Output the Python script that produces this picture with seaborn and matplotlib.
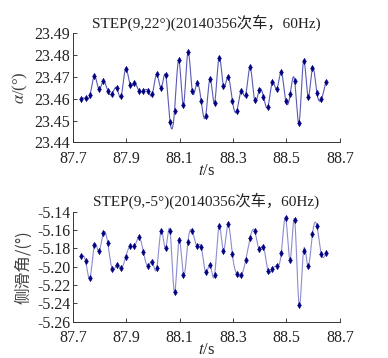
import numpy as np
import pandas as pd
import matplotlib
matplotlib.use("Agg")
import matplotlib.pyplot as plt
import seaborn as sns

# sampling: 60 Hz, first sample time
T0 = 87.7305
RATE = 60.0

alpha_vals = [23.4601, 23.4602, 23.4616, 23.4705, 23.4645, 23.4682, 23.4636, 23.4624,
              23.4650, 23.4611, 23.4738, 23.4665, 23.4673, 23.4637, 23.4637, 23.4637,
              23.4621, 23.4712, 23.4650, 23.4709, 23.4495, 23.4544, 23.4776, 23.4572,
              23.4813, 23.4634, 23.4671, 23.4590, 23.4521, 23.4692, 23.4582, 23.4789,
              23.4659, 23.4702, 23.4592, 23.4544, 23.4637, 23.4619, 23.4744, 23.4593,
              23.4639, 23.4610, 23.4564, 23.4677, 23.4644, 23.4724, 23.4590, 23.4621,
              23.4683, 23.4491, 23.4773, 23.4610, 23.4741, 23.4628, 23.4598, 23.4677]

beta_vals = [-5.1887, -5.1938, -5.2124, -5.1767, -5.1833, -5.1633, -5.1742, -5.2029,
             -5.1982, -5.2018, -5.1898, -5.1778, -5.1778, -5.1680, -5.1836, -5.1993,
             -5.1945, -5.2018, -5.1607, -5.1800, -5.1611, -5.2280, -5.1709, -5.2087,
             -5.1735, -5.1611, -5.1771, -5.1782, -5.2062, -5.1982, -5.2091, -5.1560,
             -5.1825, -5.1538, -5.1865, -5.2080, -5.2095, -5.1931, -5.1687, -5.1607,
             -5.1807, -5.1785, -5.2044, -5.2025, -5.1993, -5.1851, -5.1473, -5.1927,
             -5.1491, -5.2415, -5.1825, -5.1996, -5.1644, -5.1553, -5.1865, -5.1855]

x_ticks = [87.7, 87.9, 88.1, 88.3, 88.5, 88.7]
alpha_ticks = [23.44, 23.45, 23.46, 23.47, 23.48, 23.49]
beta_ticks = [-5.26, -5.24, -5.22, -5.20, -5.18, -5.16, -5.14]

titles = ["STEP(9,22°)(20140356次车，60Hz)", "STEP(9,-5°)(20140356次车，60Hz)"]
ylabels = [r"$\alpha$/(°)", "侧滑角/(°)"]

LINE_CS = ["#5a5ab8", "#8c8cd0"]
MARK_C = "#000080"


def natural_spline(x, y, n=20):
    """Smooth curve through the samples (natural cubic spline)."""
    x = np.asarray(x, float)
    y = np.asarray(y, float)
    m = len(x)
    h = np.diff(x)
    A = np.zeros((m, m))
    b = np.zeros(m)
    A[0, 0] = A[-1, -1] = 1
    for i in range(1, m - 1):
        A[i, i - 1] = h[i - 1]
        A[i, i] = 2 * (h[i - 1] + h[i])
        A[i, i + 1] = h[i]
        b[i] = 6 * ((y[i + 1] - y[i]) / h[i] - (y[i] - y[i - 1]) / h[i - 1])
    M = np.linalg.solve(A, b)
    xs, ys = [], []
    for i in range(m - 1):
        t = np.linspace(x[i], x[i + 1], n, endpoint=False)
        a = x[i + 1] - t
        c = t - x[i]
        s = (M[i] * a**3 + M[i + 1] * c**3) / (6 * h[i]) \
            + (y[i] / h[i] - M[i] * h[i] / 6) * a \
            + (y[i + 1] / h[i] - M[i + 1] * h[i] / 6) * c
        xs.append(t)
        ys.append(s)
    xs.append([x[-1]])
    ys.append([y[-1]])
    return np.concatenate(xs), np.concatenate(ys)


sns.set_style("ticks")
plt.rcParams["font.family"] = ["Liberation Serif", "Noto Sans CJK SC"]
plt.rcParams["mathtext.fontset"] = "stix"
plt.rcParams["xtick.direction"] = "in"
plt.rcParams["ytick.direction"] = "in"

t = T0 + np.arange(len(alpha_vals)) / RATE
df = pd.DataFrame({"t": t, "alpha": alpha_vals, "beta": beta_vals})

fig = plt.figure(figsize=(3.88, 3.58), dpi=100)
ax1 = fig.add_axes([0.188, 0.602, 0.688, 0.305])
ax2 = fig.add_axes([0.188, 0.101, 0.688, 0.308])

for ax, col, yt, title, ylab, lc in [(ax1, "alpha", alpha_ticks, titles[0], ylabels[0], LINE_CS[0]),
                                     (ax2, "beta", beta_ticks, titles[1], ylabels[1], LINE_CS[1])]:
    sx, sy = natural_spline(df["t"], df[col])
    sns.lineplot(x=sx, y=sy, ax=ax, color=lc, lw=0.8, sort=False)
    sns.scatterplot(data=df, x="t", y=col, ax=ax, marker="d", s=10,
                    color=MARK_C, edgecolor=MARK_C, linewidth=0.4, zorder=3)
    ax.set_xlim(x_ticks[0], x_ticks[-1])
    ax.set_ylim(yt[0], yt[-1])
    ax.set_xticks(x_ticks)
    ax.set_xticklabels([f"{v:.1f}" for v in x_ticks])
    ax.set_yticks(yt)
    ax.set_yticklabels([f"{v:.2f}" for v in yt])
    ax.tick_params(labelsize=11.5, length=3, width=0.6, colors="#222222")
    ax.tick_params(axis="y", pad=2)
    ax.tick_params(axis="x", pad=6)
    ax.set_title(title, fontsize=11, pad=4, color="#222222")
    ax.set_xlabel("$t$/s", fontsize=12, labelpad=-3, color="#222222")
    ax.set_ylabel(ylab, fontsize=12, labelpad=3, color="#444444")
    for sp in ["left", "bottom"]:
        ax.spines[sp].set_linewidth(0.7)
        ax.spines[sp].set_color("#333333")
    sns.despine(ax=ax)

ax2.yaxis.label.set_family(["Noto Sans CJK SC"])

fig.savefig("out.png", dpi=100)
